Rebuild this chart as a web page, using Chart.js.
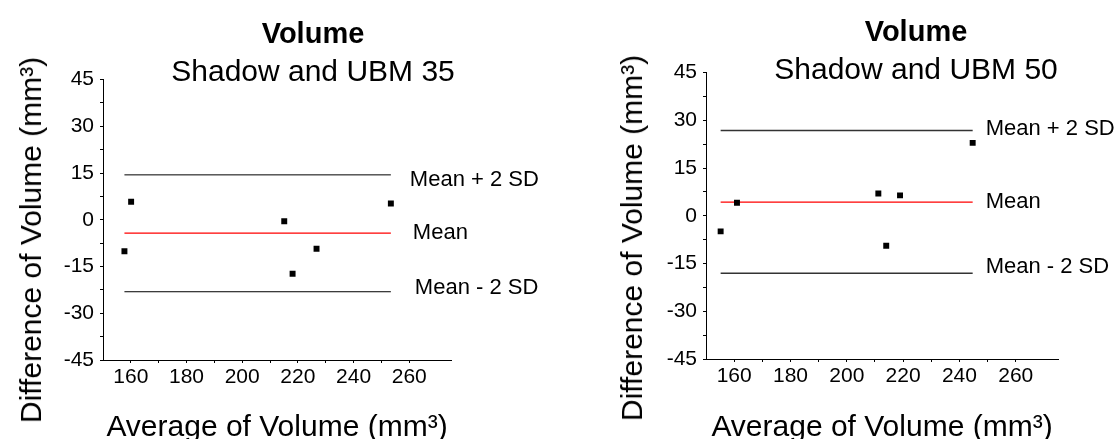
<!DOCTYPE html>
<html lang="en">
<head>
    <meta charset="UTF-8">
    <title>Volume - Bland Altman</title>
    <script src="https://cdn.jsdelivr.net/npm/chart.js"></script>
    <style>
        body {
            margin: 0;
            width: 1120px;
            height: 439px;
            overflow: hidden;
            background: #fff;
            position: relative;
            font-family: "Liberation Sans", Arial, sans-serif;
        }
        canvas {
            position: absolute;
            top: 0;
        }
        #chartLeft { left: 0; }
        #chartRight { left: 600px; }
        .ytitle {
            position: absolute;
            font-size: 30px;
            color: #000;
            white-space: nowrap;
            transform: translate(-50%, -50%) rotate(-90deg);
        }
    </style>
</head>
<body>

    <canvas id="chartLeft" width="626" height="446"></canvas>
    <canvas id="chartRight" width="632" height="446"></canvas>
    <div class="ytitle" style="left:31px; top:240px;">Difference of Volume (mm³)</div>
    <div class="ytitle" style="left:632px; top:238px;">Difference of Volume (mm³)</div>

    <script>
        // data
        const xLeft = [157.7, 160.1, 215.1, 218.1, 226.7, 253.4];
        const yLeft = [-10.1, 5.8, -0.5, -17.3, -9.3, 5.2];
        const limitsLeft = [14.4, -4.3, -23.1];   // mean + 2SD, mean, mean - 2SD

        const xRight = [155.2, 161.0, 211.2, 214.0, 218.9, 244.7];
        const yRight = [-4.9, 4.1, 7.0, -9.4, 6.4, 22.9];
        const limitsRight = [26.8, 4.3, -18.1];

        const limitLabels = ['Mean + 2 SD', 'Mean', 'Mean - 2 SD'];
        const xTickLabels = [160, 180, 200, 220, 240, 260];
        const yTickLabels = [-45, -30, -15, 0, 15, 30, 45];

        const FONT = "'Liberation Sans', Arial, sans-serif";
        Chart.defaults.font.family = FONT;
        Chart.defaults.color = '#000';

        // writes "Mean", "Mean + 2 SD" ... next to the end of each line
        const limitTextPlugin = {
            id: 'limitText',
            afterDatasetsDraw(chart, args, opts) {
                const ctx = chart.ctx;
                const xs = chart.scales.x, ys = chart.scales.y;
                const xEnd = Math.max(...opts.xs);
                ctx.save();
                ctx.font = '22px ' + FONT;
                ctx.fillStyle = '#000';
                ctx.textAlign = 'left';
                ctx.textBaseline = 'middle';
                opts.limits.forEach((v, i) => {
                    ctx.fillText(limitLabels[i],
                        xs.getPixelForValue(xEnd) + opts.dx[i],
                        ys.getPixelForValue(v) + opts.dy[i]);
                });
                ctx.restore();
            }
        };

        function makePanel(id, subtitle, xs, ys, limits, p) {
            const xMin = Math.min(...xs), xMax = Math.max(...xs);
            const limitLine = (v, color, w) => ({
                data: [{ x: xMin, y: v }, { x: xMax, y: v }],
                showLine: true,
                pointRadius: 0,
                borderColor: color,
                borderWidth: w,
                fill: false
            });
            return new Chart(document.getElementById(id), {
                type: 'scatter',
                data: {
                    datasets: [
                        {
                            data: xs.map((x, i) => ({ x: x, y: ys[i] })),
                            pointStyle: 'rect',
                            pointRadius: 4.2,
                            backgroundColor: '#000',
                            borderWidth: 0
                        },
                        limitLine(limits[0], p.limitColor, p.limitWidth),
                        limitLine(limits[1], '#ff0000', 1.2),
                        limitLine(limits[2], p.limitColor, p.limitWidth)
                    ]
                },
                options: {
                    responsive: false,
                    animation: false,
                    devicePixelRatio: 1,
                    layout: { padding: 0 },
                    plugins: {
                        legend: { display: false },
                        tooltip: { enabled: false },
                        title: {
                            display: true,
                            text: 'Volume',
                            font: { size: 29, weight: 'bold' },
                            padding: { top: p.titleTop, bottom: 0 }
                        },
                        subtitle: {
                            display: true,
                            text: subtitle,
                            font: { size: 30 },
                            padding: { top: 2, bottom: p.subBottom }
                        },
                        limitText: { xs: xs, limits: limits, dx: p.dx, dy: p.dy }
                    },
                    scales: {
                        x: {
                            type: 'linear',
                            min: 150,
                            max: 275,
                            afterFit: s => { s.height = p.xHeight; },
                            border: { display: true, color: '#000', width: 1 },
                            grid: {
                                drawOnChartArea: false,
                                tickLength: 3,
                                tickColor: c => (c.tick && (c.tick.value === 150 || c.tick.value === 275)) ? 'rgba(0,0,0,0)' : '#000'
                            },
                            ticks: {
                                stepSize: 10,
                                autoSkip: false,
                                maxRotation: 0,
                                padding: 2,
                                font: { size: 21 },
                                callback: v => xTickLabels.includes(v) ? String(v) : ''
                            },
                            title: {
                                display: true,
                                text: 'Average of Volume (mm³)',
                                font: { size: 30 },
                                padding: { top: 0, bottom: 0 }
                            }
                        },
                        y: {
                            type: 'linear',
                            position: 'left',
                            min: -45,
                            max: 45,
                            afterFit: s => { s.width = p.yWidth; },
                            border: { display: true, color: '#000', width: 1 },
                            grid: { drawOnChartArea: false, tickLength: 3, tickColor: '#000' },
                            ticks: {
                                stepSize: 7.5,
                                autoSkip: false,
                                padding: 6,
                                font: { size: 21 },
                                callback: v => yTickLabels.includes(v) ? String(v) : ''
                            }
                        },
                        // empty right axis, only keeps room for the line labels
                        pad: {
                            type: 'linear',
                            position: 'right',
                            afterFit: s => { s.width = p.rightRoom; },
                            border: { display: false },
                            grid: { display: false },
                            ticks: { display: false }
                        }
                    }
                },
                plugins: [limitTextPlugin]
            });
        }

        makePanel('chartLeft', 'Shadow and UBM 35', xLeft, yLeft, limitsLeft, {
            titleTop: 17.5, subBottom: -10.8, xHeight: 86, yWidth: 103, rightRoom: 175,
            limitColor: '#000', limitWidth: 1,
            dx: [19, 22, 24], dy: [5, 0, -4]
        });

        makePanel('chartRight', 'Shadow and UBM 50', xRight, yRight, limitsRight, {
            titleTop: 16, subBottom: -16.3, xHeight: 87, yWidth: 106, rightRoom: 174,
            limitColor: '#333', limitWidth: 1.5,
            dx: [13, 13, 13], dy: [-1, 0, -6]
        });
    </script>

</body>
</html>
